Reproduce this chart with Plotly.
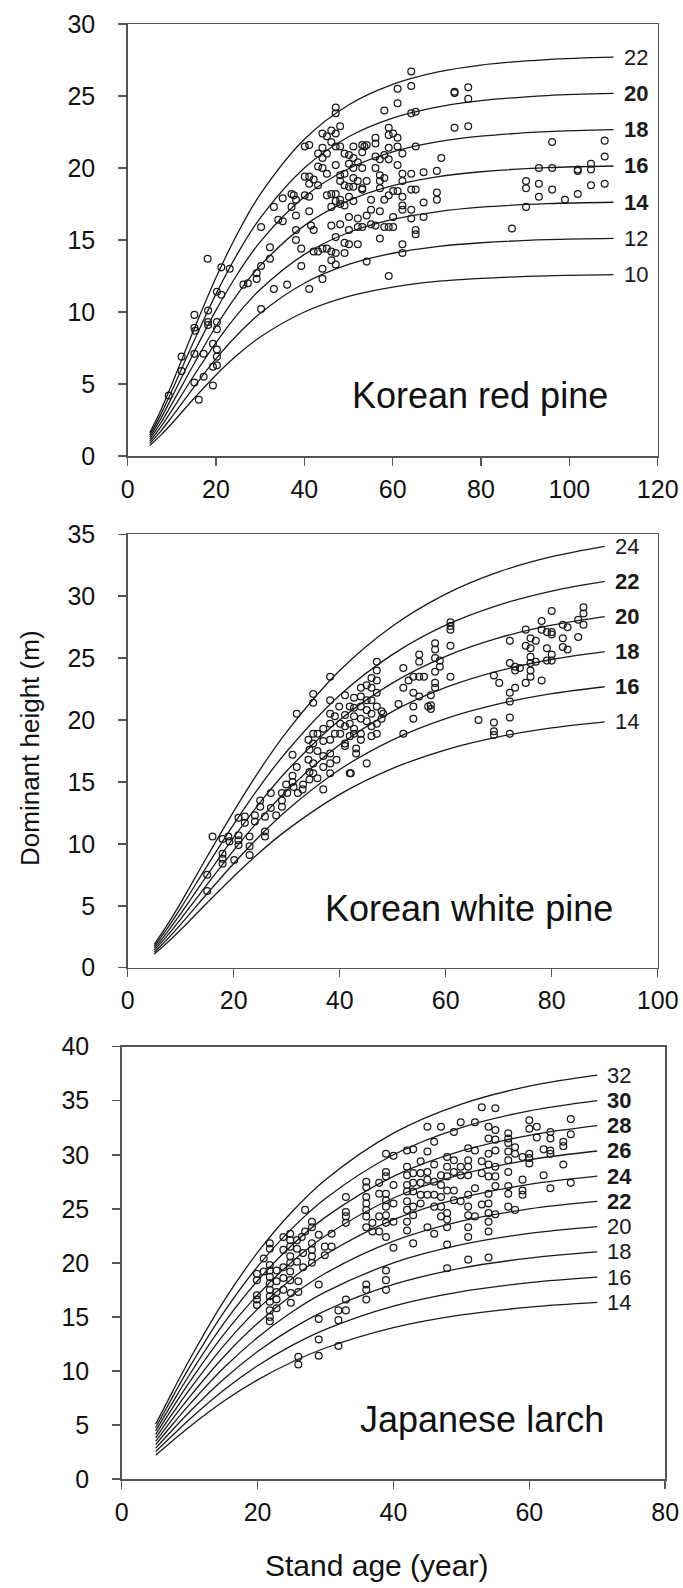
import plotly.graph_objects as go

# ---------------- DATA ----------------
# Korean red pine
krp_curve_age = [5, 7.5, 10, 15, 20, 25, 30, 40, 50, 60, 70, 80, 95, 110]
krp_si = [22, 20, 18, 16, 14, 12, 10]
krp_curve_h = [
    [1.61, 3.18, 4.98, 8.78, 12.39, 15.54, 18.17, 22.0, 24.38, 25.81, 26.66, 27.15, 27.53, 27.70],
    [1.46, 2.89, 4.53, 7.98, 11.26, 14.12, 16.52, 20.0, 22.17, 23.47, 24.23, 24.68, 25.03, 25.18],
    [1.32, 2.60, 4.08, 7.19, 10.13, 12.71, 14.87, 18.0, 19.95, 21.12, 21.81, 22.21, 22.52, 22.66],
    [1.17, 2.31, 3.62, 6.39, 9.01, 11.30, 13.22, 16.0, 17.73, 18.77, 19.39, 19.74, 20.02, 20.14],
    [1.02, 2.02, 3.17, 5.59, 7.88, 9.89, 11.56, 14.0, 15.52, 16.43, 16.96, 17.28, 17.52, 17.62],
    [0.88, 1.73, 2.72, 4.79, 6.76, 8.47, 9.91, 12.0, 13.30, 14.08, 14.54, 14.81, 15.02, 15.11],
    [0.73, 1.45, 2.26, 3.99, 5.63, 7.06, 8.26, 10.0, 11.08, 11.73, 12.12, 12.34, 12.51, 12.59],
]
krp_age = [9.3, 12.2, 12.2, 15.1, 15.1, 15.3, 15.1, 15.1, 16.1, 17.2, 17.2, 18.1, 18.2, 18.2, 18.2, 19.3, 19.3, 19.3,
           20.2, 20.2, 20.2, 20.2, 20.2, 20.2, 21.2, 21.2, 23.1, 26.2, 27.2, 29.2, 29.2, 30.2, 30.2, 30.2, 32.2, 32.2,
           33.1, 33.1, 34.1, 35.1, 35.1, 36.1, 37.1, 37.1, 37.6, 38.1, 38.1, 38.1, 38.1, 39.3, 39.3, 40.1, 40.1, 40.1,
           41.1, 41.1, 41.1, 41.1, 41.1, 41.1, 41.5, 42.1, 42.1, 42.1, 43.1, 43.1, 43.1, 43.1, 44.1, 44.1, 44.1, 44.1,
           44.1, 44.1, 44.1, 45.1, 45.1, 45.1, 45.1, 45.1, 46.1, 46.1, 46.1, 46.1, 46.1, 46.1, 46.1, 47.1, 47.1, 47.1,
           47.1, 47.1, 47.1, 47.1, 47.1, 47.1, 47.1, 48.1, 48.1, 48.1, 48.1, 48.1, 48.1, 48.1, 49.1, 49.1, 49.1, 49.1,
           49.1, 49.1, 50.1, 50.1, 50.1, 50.1, 50.1, 50.1, 50.1, 51.1, 51.1, 51.1, 51.1, 51.1, 51.1, 52.1, 52.1, 52.1,
           52.1, 52.1, 53.1, 53.1, 53.1, 53.1, 53.1, 53.1, 53.6, 54.1, 54.1, 54.1, 54.1, 55.1, 55.1, 55.1, 56.1, 56.1,
           56.1, 56.1, 56.1, 57.1, 57.1, 57.1, 57.1, 57.1, 57.1, 58.1, 58.1, 58.1, 58.1, 58.1, 59.1, 59.1, 59.1, 59.1,
           59.1, 59.1, 59.1, 60.1, 60.1, 60.1, 60.1, 61.1, 61.1, 61.1, 61.1, 61.1, 61.1, 62.2, 62.2, 62.2, 62.2, 62.2,
           62.2, 62.2, 62.2, 64.2, 64.2, 64.2, 64.2, 64.2, 64.2, 64.2, 65.2, 65.2, 65.2, 65.2, 65.2, 67.0, 67.0, 67.0,
           70.0, 70.0, 70.0, 71.0, 74.0, 74.0, 74.0, 77.1, 77.1, 77.1, 87.0, 90.2, 90.2, 90.2, 93.1, 93.1, 93.1, 96.1,
           96.1, 96.1, 99.0, 101.9, 101.9, 101.9, 104.9, 104.9, 104.9, 108.0, 108.0, 108.0]
krp_h = [4.2, 6.9, 5.9, 9.8, 8.9, 8.7, 7.1, 5.1, 3.9, 7.1, 5.5, 13.7, 10.1, 9.3, 9.1, 7.8, 6.2, 4.9,
         9.3, 8.8, 7.4, 6.9, 6.3, 11.4, 13.1, 11.2, 13.0, 11.9, 12.0, 12.7, 12.3, 15.9, 13.2, 10.2, 14.5, 13.7,
         17.3, 11.6, 16.4, 17.9, 16.3, 11.9, 18.2, 17.3, 18.1, 17.8, 16.7, 15.7, 15.0, 13.2, 14.4, 21.5, 19.4, 18.1,
         21.6, 19.4, 18.9, 18.0, 17.0, 11.6, 16.0, 19.2, 15.7, 14.2, 21.0, 20.1, 18.8, 14.2, 22.4, 21.4, 20.7, 20.0,
         14.4, 13.0, 12.3, 22.2, 21.0, 19.6, 18.1, 14.4, 22.6, 21.8, 18.2, 17.3, 16.0, 14.2, 13.6, 24.2, 23.8, 22.4,
         21.5, 20.2, 18.2, 17.7, 15.2, 14.1, 13.3, 22.9, 21.5, 19.5, 19.1, 17.8, 16.1, 17.5, 21.0, 19.6, 18.8, 17.4,
         14.8, 14.1, 20.9, 20.3, 18.7, 18.0, 16.6, 15.7, 14.7, 21.5, 20.7, 20.0, 19.3, 18.7, 17.7, 20.4, 19.1, 16.5,
         15.9, 14.7, 21.6, 21.1, 20.0, 18.6, 18.5, 15.9, 21.5, 21.6, 19.1, 16.7, 13.5, 17.8, 17.1, 16.1, 22.1, 21.7,
         20.8, 20.0, 16.0, 20.6, 19.5, 19.1, 18.6, 17.0, 15.1, 24.0, 20.9, 19.3, 17.8, 15.9, 22.8, 22.3, 21.4, 20.6,
         18.1, 15.9, 12.5, 22.4, 18.4, 16.6, 15.9, 25.5, 24.5, 22.1, 21.5, 20.2, 18.4, 21.0, 19.6, 19.1, 18.0, 17.4,
         17.1, 14.7, 14.1, 26.7, 25.7, 23.8, 19.6, 18.5, 17.1, 16.5, 23.9, 21.5, 18.5, 15.7, 15.4, 19.7, 17.6, 16.6,
         19.8, 18.3, 17.8, 20.7, 25.3, 25.2, 22.8, 25.6, 24.8, 22.9, 15.8, 19.1, 18.6, 17.3, 20.0, 18.9, 18.0, 21.8,
         20.0, 18.5, 17.8, 19.9, 19.8, 18.2, 20.3, 19.9, 18.8, 21.9, 20.8, 18.9]

# Korean white pine
kwp_curve_age = [5, 7.5, 10, 15, 20, 25, 30, 40, 50, 60, 70, 80, 90]
kwp_si = [24, 22, 20, 18, 16, 14]
kwp_curve_h = [
    [1.89, 3.48, 5.24, 8.98, 12.63, 16.02, 19.05, 24.0, 27.60, 30.17, 31.96, 33.19, 34.03],
    [1.73, 3.19, 4.81, 8.23, 11.58, 14.69, 17.46, 22.0, 25.30, 27.66, 29.29, 30.42, 31.20],
    [1.58, 2.90, 4.37, 7.48, 10.53, 13.35, 15.88, 20.0, 23.00, 25.14, 26.63, 27.66, 28.36],
    [1.42, 2.61, 3.93, 6.73, 9.48, 12.02, 14.29, 18.0, 20.70, 22.63, 23.97, 24.89, 25.53],
    [1.26, 2.32, 3.50, 5.99, 8.42, 10.68, 12.70, 16.0, 18.40, 20.11, 21.30, 22.13, 22.69],
    [1.10, 2.03, 3.06, 5.24, 7.37, 9.35, 11.11, 14.0, 16.10, 17.60, 18.64, 19.36, 19.85],
]
kwp_age = [15.0, 15.0, 16.0, 17.9, 17.9, 17.9, 17.9, 19.0, 19.2, 20.1, 20.9, 20.9, 20.9, 20.9, 22.1, 22.1, 23.0,
           23.0, 23.0, 24.0, 24.0, 25.0, 25.0, 25.9, 25.9, 25.9, 27.0, 27.0, 28.0, 29.1, 29.1, 29.1, 29.9, 30.1,
           31.1, 31.1, 31.1, 31.3, 31.9, 31.9, 32.1, 33.0, 33.1, 34.1, 34.1, 34.3, 34.3, 34.3, 35.0, 35.0, 35.0,
           35.0, 35.0, 35.0, 35.8, 35.8, 35.8, 36.9, 36.9, 36.9, 36.9, 36.9, 38.2, 38.2, 38.2, 38.2, 38.2, 38.2,
           38.2, 38.2, 39.1, 39.1, 39.4, 39.9, 40.1, 40.1, 41.0, 41.0, 41.0, 41.0, 41.0, 41.9, 41.9, 41.9, 41.9,
           42.1, 42.7, 42.7, 42.7, 42.7, 42.7, 43.1, 43.1, 44.0, 44.0, 44.0, 44.0, 44.0, 44.0, 45.1, 45.1, 45.1,
           45.1, 45.1, 46.0, 46.0, 46.0, 46.0, 46.0, 46.0, 47.0, 47.0, 47.0, 47.0, 47.0, 47.0, 47.0, 47.9, 47.9,
           48.2, 51.1, 52.0, 52.0, 52.0, 53.0, 53.9, 53.9, 53.9, 53.9, 55.0, 55.0, 55.0, 55.0, 55.9, 56.7, 58.0,
           58.0, 58.0, 58.9, 58.9, 58.0, 58.0, 58.0, 57.2, 57.2, 57.2, 60.9, 60.9, 60.9, 60.9, 60.9, 66.2, 69.1,
           69.1, 69.1, 69.1, 70.1, 72.1, 72.1, 72.1, 72.1, 72.1, 72.1, 73.1, 73.1, 73.1, 74.0, 75.1, 75.1, 75.1,
           76.0, 76.0, 76.0, 76.0, 76.0, 76.0, 77.0, 77.0, 78.1, 78.1, 78.1, 79.1, 79.1, 79.1, 80.0, 80.0, 80.0,
           80.0, 80.0, 82.1, 82.1, 82.1, 83.0, 83.0, 85.0, 85.0, 86.0, 86.0, 86.0]
kwp_h = [6.2, 7.5, 10.6, 10.4, 9.2, 8.8, 8.4, 10.6, 10.2, 8.7, 12.1, 10.7, 10.3, 9.9, 12.2, 11.7, 10.6,
         9.8, 9.1, 12.3, 11.8, 13.5, 13.0, 12.2, 11.0, 10.6, 12.9, 14.1, 12.3, 14.1, 13.5, 13.0, 14.8, 14.1,
         17.2, 15.5, 15.0, 14.6, 20.5, 16.2, 14.1, 14.4, 14.8, 18.4, 16.8, 17.6, 15.8, 15.2, 22.1, 21.4, 18.9,
         18.1, 16.5, 15.7, 18.9, 17.5, 15.3, 14.4, 19.3, 18.3, 17.1, 16.2, 23.5, 21.6, 20.5, 19.7, 18.4, 17.3,
         16.5, 15.7, 20.3, 18.9, 16.8, 21.1, 19.7, 18.9, 22.0, 20.4, 19.5, 18.1, 17.9, 15.7, 21.1, 19.7, 18.7,
         15.7, 21.8, 21.0, 20.3, 19.3, 18.9, 17.7, 17.3, 22.6, 21.9, 21.1, 20.1, 18.9, 18.4, 22.8, 21.6, 20.8,
         19.9, 16.5, 23.4, 22.6, 21.6, 20.5, 19.5, 18.7, 24.7, 24.0, 23.2, 22.2, 21.1, 19.7, 18.9, 20.7, 20.1,
         20.5, 21.3, 24.2, 22.6, 18.9, 23.2, 23.5, 22.2, 21.1, 20.1, 25.3, 24.7, 23.5, 21.9, 23.5, 21.1, 26.2,
         25.7, 25.0, 24.8, 24.3, 23.9, 23.0, 22.6, 22.0, 21.2, 20.9, 27.9, 27.6, 27.3, 26.0, 23.5, 20.0, 19.8,
         19.1, 18.8, 23.6, 23.0, 26.4, 24.6, 22.2, 21.5, 20.2, 18.9, 24.3, 24.0, 22.6, 24.2, 27.3, 26.0, 23.0,
         26.6, 25.8, 25.1, 24.6, 24.0, 23.5, 26.4, 24.7, 28.0, 27.3, 23.2, 27.1, 25.8, 24.8, 28.8, 27.1, 26.9,
         25.3, 24.8, 27.7, 26.6, 25.9, 27.5, 25.7, 28.1, 26.7, 29.1, 28.6, 27.7]

# Japanese larch
jl_curve_age = [5, 7.5, 10, 15, 20, 25, 30, 40, 50, 60, 70]
jl_si = [32, 30, 28, 26, 24, 22, 20, 18, 16, 14]
jl_curve_h = [
    [5.08, 8.11, 11.06, 16.43, 20.96, 24.68, 27.69, 32.0, 34.69, 36.35, 37.36],
    [4.76, 7.60, 10.37, 15.40, 19.65, 23.14, 25.96, 30.0, 32.52, 34.07, 35.02],
    [4.45, 7.09, 9.67, 14.37, 18.34, 21.60, 24.23, 28.0, 30.35, 31.80, 32.69],
    [4.13, 6.59, 8.98, 13.35, 17.03, 20.06, 22.50, 26.0, 28.18, 29.53, 30.35],
    [3.81, 6.08, 8.29, 12.32, 15.72, 18.51, 20.77, 24.0, 26.02, 27.26, 28.02],
    [3.49, 5.57, 7.60, 11.29, 14.41, 16.97, 19.04, 22.0, 23.85, 24.99, 25.68],
    [3.18, 5.07, 6.91, 10.27, 13.10, 15.43, 17.31, 20.0, 21.68, 22.72, 23.35],
    [2.86, 4.56, 6.22, 9.24, 11.79, 13.89, 15.58, 18.0, 19.51, 20.44, 21.01],
    [2.54, 4.05, 5.53, 8.21, 10.48, 12.34, 13.85, 16.0, 17.34, 18.17, 18.68],
    [2.22, 3.55, 4.84, 7.19, 9.17, 10.80, 12.12, 14.0, 15.18, 15.90, 16.34],
]
jl_age = [19.9, 19.9, 19.9, 19.9, 19.9, 20.9, 20.9, 21.8, 21.8, 21.8, 21.8, 21.8, 21.8, 21.8, 21.8, 21.8, 21.8,
          21.8, 21.8, 22.8, 22.8, 22.8, 22.8, 22.8, 23.8, 23.8, 23.8, 23.8, 23.8, 24.8, 24.8, 24.8, 24.8, 24.8,
          24.8, 24.8, 24.9, 24.9, 25.8, 25.8, 25.8, 26.0, 26.0, 26.5, 26.7, 26.7, 27.0, 28.0, 28.0, 28.0, 28.0,
          28.0, 28.0, 27.0, 29.0, 29.0, 29.9, 29.9, 30.9, 30.9, 33.0, 33.0, 33.0, 33.0, 36.0, 36.0, 36.0, 36.0,
          36.0, 36.0, 36.0, 36.9, 36.9, 37.9, 37.9, 37.9, 37.9, 38.9, 38.9, 38.9, 38.9, 38.9, 38.9, 38.9, 38.9,
          38.9, 40.0, 40.0, 40.0, 40.0, 40.0, 29.0, 29.0, 29.0, 26.0, 26.0, 31.9, 31.9, 33.0, 33.0, 31.9, 36.0,
          36.0, 36.0, 38.9, 38.9, 38.9,
          42.0, 42.9, 42.0, 42.0, 42.0, 42.0, 42.0, 42.0, 42.0, 42.0, 42.9, 42.9, 42.9, 42.9, 42.9, 42.9, 44.0,
          44.0, 44.0, 44.0, 44.0, 45.0, 45.0, 45.0, 45.0, 45.0, 45.0, 46.0, 46.0, 46.0, 46.0, 46.0, 46.0, 47.0,
          47.0, 47.0, 47.0, 47.0, 47.0, 47.9, 47.9, 47.9, 47.9, 47.9, 47.9, 47.9, 47.9, 47.9, 48.9, 48.9, 48.9,
          48.9, 48.9, 49.9, 49.9, 49.9, 49.9, 51.0, 51.0, 51.0, 51.0, 51.0, 51.0, 51.0, 51.0, 51.0, 51.0, 52.0,
          52.0, 52.0, 52.0, 53.0, 53.0, 53.0, 53.0, 54.0, 54.0, 54.0, 54.0, 54.0, 54.0, 54.0, 54.0, 54.0, 54.0,
          54.0, 55.0, 55.0, 55.0, 55.0, 55.0, 55.0, 55.0, 55.0, 56.9, 56.9, 56.9, 56.9, 56.9, 56.9, 56.9, 56.9,
          56.9, 57.9, 57.9, 57.9, 59.0, 59.0, 59.0, 59.0, 60.0, 60.0, 60.0, 60.0, 60.0, 61.1, 61.1, 62.1, 62.1,
          63.1, 63.1, 63.1, 63.1, 63.1, 65.0, 65.0, 65.0, 66.1, 66.1, 66.1]
jl_h = [19.0, 18.4, 17.0, 16.6, 16.1, 20.4, 19.2, 21.8, 21.3, 19.8, 19.3, 18.7, 18.1, 17.5, 16.9, 16.4, 15.6,
        15.0, 14.6, 19.3, 18.3, 17.3, 16.6, 15.8, 22.4, 21.2, 19.6, 18.6, 17.5, 22.7, 22.1, 21.5, 20.6, 20.0,
        19.2, 18.4, 17.2, 16.3, 22.1, 21.3, 20.1, 18.3, 17.3, 22.4, 20.9, 19.6, 22.9, 23.8, 23.3, 21.8, 21.2,
        20.6, 20.0, 24.9, 22.6, 18.0, 21.5, 20.7, 22.7, 21.5, 26.1, 24.7, 24.3, 23.7, 27.5, 27.0, 26.1, 25.5,
        24.9, 24.3, 23.3, 23.7, 22.9, 27.4, 26.4, 24.3, 22.9, 30.1, 28.4, 28.0, 26.4, 25.8, 25.2, 24.4, 23.7,
        22.4, 29.9, 27.2, 25.5, 23.8, 21.4, 14.8, 12.9, 11.4, 11.3, 10.6, 15.6, 14.7, 15.6, 16.6, 12.3, 18.0,
        17.5, 16.6, 19.3, 18.4, 17.5,
        30.4, 30.5, 28.9, 28.1, 27.2, 26.6, 25.7, 24.9, 23.8, 23.0, 28.3, 27.4, 26.6, 25.2, 24.4, 21.8, 29.4,
        28.3, 27.4, 26.3, 25.5, 32.6, 30.3, 28.4, 27.7, 26.3, 23.3, 31.2, 29.1, 27.5, 26.3, 25.2, 22.7, 32.6,
        28.1, 27.2, 26.1, 25.2, 24.3, 29.8, 28.9, 28.0, 26.7, 24.6, 24.0, 23.3, 21.7, 19.5, 32.1, 29.5, 28.4,
        26.7, 25.8, 33.0, 28.9, 28.1, 25.7, 30.6, 29.5, 28.9, 28.1, 26.3, 25.2, 24.4, 23.3, 22.4, 20.3, 33.0,
        30.4, 26.9, 24.3, 34.4, 29.4, 28.3, 25.4, 32.6, 31.5, 30.1, 29.1, 28.0, 26.4, 25.5, 24.6, 23.8, 22.9,
        20.5, 34.3, 32.3, 31.4, 30.4, 28.9, 28.0, 27.1, 24.5, 32.0, 31.5, 31.1, 30.3, 29.5, 28.4, 27.1, 26.4,
        25.2, 30.7, 30.1, 24.9, 29.8, 27.7, 26.7, 26.3, 33.2, 32.4, 30.1, 29.7, 29.2, 32.6, 31.6, 30.5, 28.1,
        32.1, 31.5, 30.4, 30.1, 26.9, 31.2, 30.8, 29.1, 33.3, 31.9, 27.4]

# ---------------- FIGURE ----------------
W, H = 683, 1588
FONT = "Liberation Sans, Arial, Helvetica, sans-serif"
INK = "#1a1a1a"
AXC = "#555555"

panels = [
    dict(age=krp_age, h=krp_h, cage=krp_curve_age, si=krp_si, ch=krp_curve_h,
         bold={20, 18, 16, 14}, name="Korean red pine", xr=120, yr=30,
         xdom=(127.7, 657.7), ydom=(24, 456), title_xy=(109.2, 4.2)),
    dict(age=kwp_age, h=kwp_h, cage=kwp_curve_age, si=kwp_si, ch=kwp_curve_h,
         bold={22, 20, 18, 16}, name="Korean white pine", xr=100, yr=35,
         xdom=(127.7, 657.7), ydom=(534.3, 967.7), title_xy=(91.9, 4.8)),
    dict(age=jl_age, h=jl_h, cage=jl_curve_age, si=jl_si, ch=jl_curve_h,
         bold={30, 28, 26, 24, 22}, name="Japanese larch", xr=80, yr=40,
         xdom=(121.7, 665.2), ydom=(1046.7, 1479), title_xy=(71.3, 5.55)),
]

fig = go.Figure()
annotations = []
layout = {}
for i, p in enumerate(panels, start=1):
    xa = "x" if i == 1 else f"x{i}"
    ya = "y" if i == 1 else f"y{i}"
    for si, hs in zip(p["si"], p["ch"]):
        fig.add_trace(go.Scatter(x=p["cage"], y=hs, mode="lines", xaxis=xa, yaxis=ya,
                                 line=dict(color=INK, width=1.3, shape="spline", smoothing=1.0),
                                 showlegend=False, hoverinfo="skip"))
        label = f"<b>{si}</b>" if si in p["bold"] else str(si)
        annotations.append(dict(x=p["cage"][-1], y=hs[-1], xref=xa, yref=ya, text=label,
                                showarrow=False, xanchor="left", yanchor="middle", xshift=8,
                                font=dict(family=FONT, size=22, color=INK)))
    fig.add_trace(go.Scatter(x=p["age"], y=p["h"], mode="markers", xaxis=xa, yaxis=ya,
                             marker=dict(symbol="circle-open", size=6.8, color=INK,
                                         line=dict(width=1.25, color=INK)),
                             showlegend=False))
    annotations.append(dict(x=p["title_xy"][0], y=p["title_xy"][1], xref=xa, yref=ya,
                            text=p["name"], showarrow=False, xanchor="right", yanchor="middle",
                            font=dict(family=FONT, size=36, color="#111111")))
    x0, x1 = p["xdom"]
    yt, yb = p["ydom"]
    axis_common = dict(showline=True, linecolor=AXC, linewidth=1.5, mirror=True,
                       ticks="outside", ticklen=8, tickwidth=1.5, tickcolor=AXC,
                       showgrid=False, zeroline=False, automargin=False,
                       tickfont=dict(family=FONT, size=25, color="#111111"))
    layout["xaxis" if i == 1 else f"xaxis{i}"] = dict(
        domain=[x0 / W, x1 / W], range=[0, p["xr"]], dtick=20, tick0=0,
        anchor=ya, ticklabelstandoff=2, **axis_common)
    layout["yaxis" if i == 1 else f"yaxis{i}"] = dict(
        domain=[1 - yb / H, 1 - yt / H], range=[0, p["yr"]], dtick=5, tick0=0,
        anchor=xa, ticklabelstandoff=18, **axis_common)

annotations.append(dict(x=30 / W, y=1 - 748 / H, xref="paper", yref="paper",
                        text="Dominant height (m)", textangle=-90, showarrow=False,
                        xanchor="center", yanchor="middle",
                        font=dict(family=FONT, size=26, color="#111111")))
annotations.append(dict(x=376 / W, y=1 - 1565 / H, xref="paper", yref="paper",
                        text="Stand age (year)", showarrow=False,
                        xanchor="center", yanchor="middle",
                        font=dict(family=FONT, size=30, color="#111111")))

fig.update_layout(width=W, height=H, autosize=False,
                  margin=dict(l=0, r=0, t=0, b=0, autoexpand=False),
                  paper_bgcolor="white", plot_bgcolor="white",
                  hovermode=False,
                  annotations=annotations, **layout)

fig.write_html(
    "out.html",
    config={"displayModeBar": False, "staticPlot": True},
    post_script="document.documentElement.style.margin='0';"
                "document.body.style.margin='0';"
                "document.body.style.overflow='hidden';",
)
